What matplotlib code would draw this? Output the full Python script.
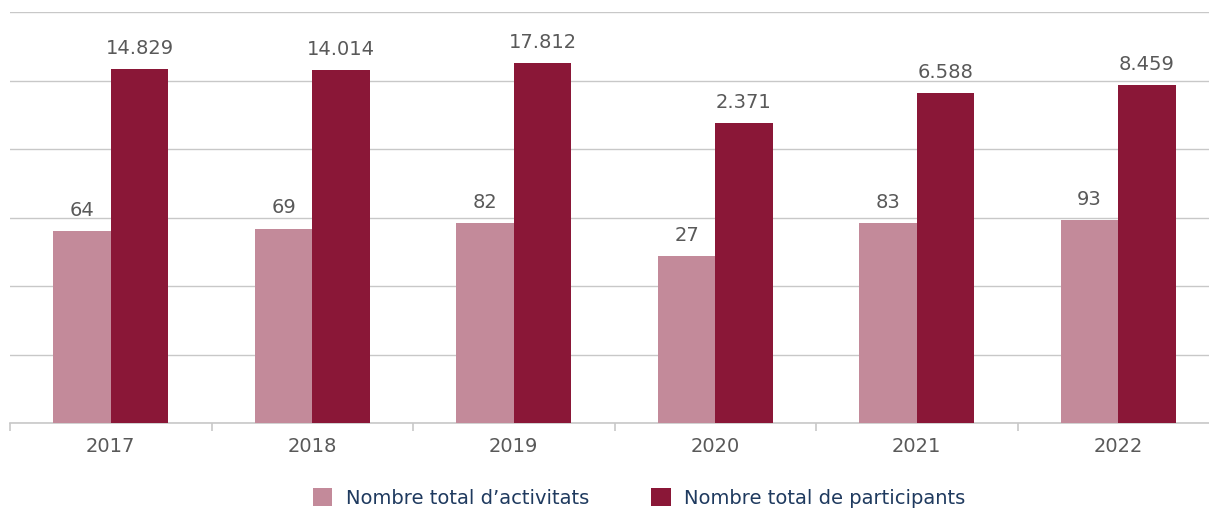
import matplotlib.pyplot as plt
import numpy as np

plt.rcParams['font.family'] = ['DejaVu Sans']

# dades
anys = ['2017', '2018', '2019', '2020', '2021', '2022']
activitats = [64, 69, 82, 27, 83, 93]
participants = [14829, 14014, 17812, 2371, 6588, 8459]

col_act = '#C38A9A'
col_part = '#8A1737'
col_text = '#595959'


def fmt(v):
    return f"{v:,}".replace(',', '.')


fig = plt.figure(figsize=(12.09, 5.09), dpi=100)
ax = fig.add_axes([10 / 1209, 86 / 509, 1209 / 1209, 411 / 509])

x = np.arange(len(anys))
w = 0.285
b1 = ax.bar(x - w / 2, activitats, w, color=col_act, label='Nombre total d\u2019activitats', zorder=3)
b2 = ax.bar(x + w / 2, participants, w, color=col_part, label='Nombre total de participants', zorder=3)

ax.set_yscale('log')
ax.set_ylim(0.1, 1e5)
ax.set_xlim(-0.5, len(anys) - 0.5)
ax.yaxis.set_major_locator(plt.LogLocator(base=10, numticks=10))
ax.yaxis.set_minor_locator(plt.NullLocator())
ax.tick_params(axis='y', left=False, labelleft=False)
ax.grid(axis='y', color='#C8C8C8', linewidth=1, zorder=0)

for s in ['left', 'right', 'top']:
    ax.spines[s].set_visible(False)
ax.spines['bottom'].set_color('#C8C8C8')
ax.spines['bottom'].set_linewidth(1.2)

# marques entre categories
ax.set_xticks(x)
ax.set_xticklabels(anys, fontsize=14, color=col_text)
ax.tick_params(axis='x', length=0, pad=10)
ax.set_xticks(np.arange(len(anys) + 1) - 0.5, minor=True)
ax.tick_params(axis='x', which='minor', length=6, color='#C8C8C8', width=1.2)

for bars, vals in [(b1, activitats), (b2, participants)]:
    for bar, v in zip(bars, vals):
        ax.annotate(fmt(v), (bar.get_x() + bar.get_width() / 2, bar.get_height()),
                    xytext=(0, 8), textcoords='offset points', ha='center', va='bottom',
                    fontsize=14, color=col_text)

leg = fig.legend(loc='center', bbox_to_anchor=(639 / 1209, 11 / 509), ncol=2, frameon=False,
                 fontsize=14, handlelength=1.0, handleheight=1.0, columnspacing=3.2,
                 handletextpad=0.7)
for t in leg.get_texts():
    t.set_color('#1F3A5F')

fig.savefig('out.png', dpi=100)
